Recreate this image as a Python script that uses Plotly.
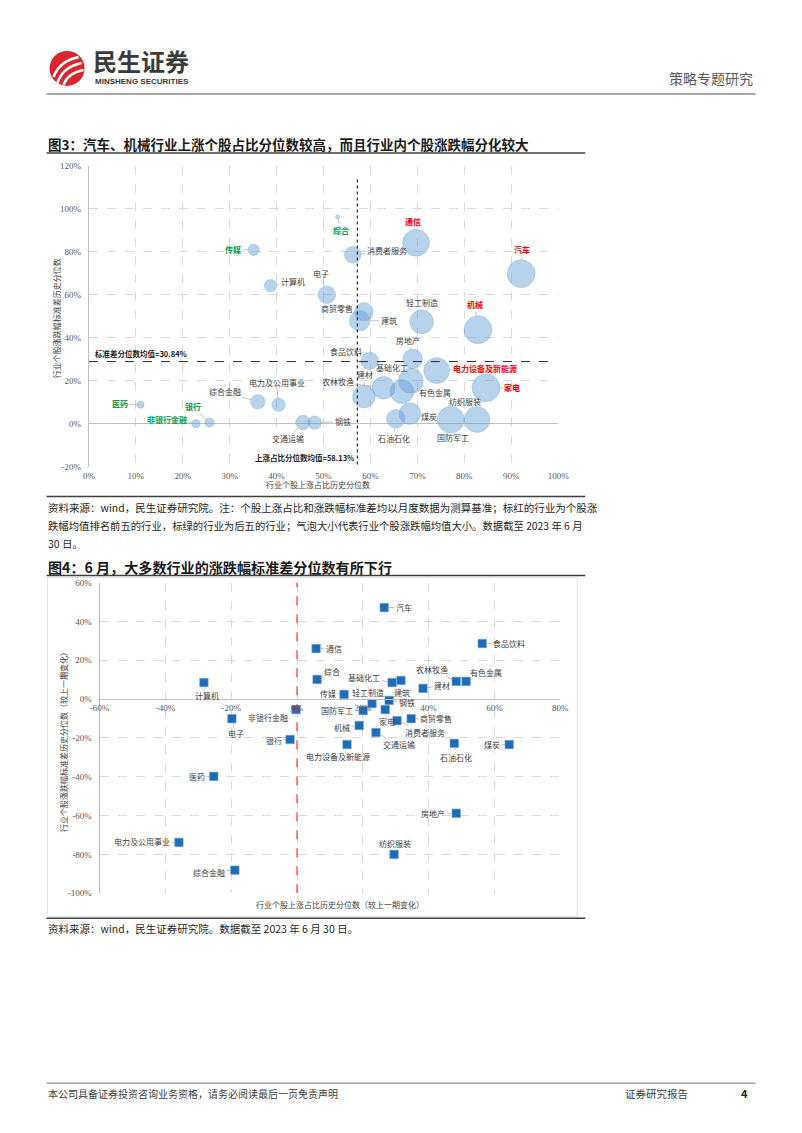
import plotly.graph_objects as go

# Page coordinates below are those of the reference picture; the renderer maps figure pixels
# to the photographed picture with a small fixed scale/offset, which is compensated here.
SX, BX = 0.973, 10.5
SY, BY = 0.992, 4.0
W, H = 816, 1138


def px(x):
    return ((x - BX) / SX) / W


def py(y):
    return 1 - ((y - BY) / SY) / H


# ---------------- Chart 1 data (图3) ----------------
c1_names = ["综合", "传媒", "计算机", "电子", "消费者服务", "通信", "汽车", "机械", "轻工制造",
            "商贸零售", "建筑", "食品饮料", "房地产", "电力设备及新能源", "家电", "建材", "农林牧渔",
            "有色金属", "基础化工", "钢铁", "交通运输", "石油石化", "煤炭", "国防军工", "纺织服装",
            "医药", "非银行金融", "银行", "综合金融", "电力及公用事业"]
c1_up_pct = [53.0, 35.1, 38.7, 50.7, 56.2, 69.7, 92.1, 82.9, 70.9,
             58.6, 57.7, 59.8, 69.0, 74.1, 84.6, 58.6, 62.8,
             66.7, 68.6, 48.1, 45.6, 65.4, 68.4, 77.1, 82.7,
             11.0, 22.8, 25.7, 36.0, 40.4]
c1_std_pct = [96.3, 80.9, 64.2, 60.0, 78.6, 84.2, 69.8, 43.7, 47.4,
              52.1, 47.9, 29.3, 30.2, 24.7, 16.7, 12.6, 16.7,
              14.9, 20.0, 0.5, 0.5, 2.3, 4.7, 1.9, 1.9,
              8.8, 0.0, 0.5, 10.2, 8.8]
c1_avg_move = [4, 11, 12, 17, 16, 26, 27, 27, 23,
               18, 20, 17, 19, 25, 27, 22, 22,
               23, 24, 13, 14, 18, 21, 26, 25,
               7, 8, 9, 14, 13]
c1_top5 = ["通信", "汽车", "机械", "电力设备及新能源", "家电"]
c1_bottom5 = ["综合", "传媒", "医药", "非银行金融", "银行"]
c1_mean_up_label = "58.13%"
c1_mean_std_label = "30.84%"
c1_x_ticks = [0, 10, 20, 30, 40, 50, 60, 70, 80, 90, 100]
c1_y_ticks = [-20, 0, 20, 40, 60, 80, 100, 120]

# ---------------- Chart 2 data (图4) ----------------
c2_names = ["汽车", "通信", "食品饮料", "综合", "计算机", "农林牧渔", "有色金属", "基础化工",
            "建筑", "建材", "传媒", "轻工制造", "钢铁", "国防军工", "家电", "非银行金融",
            "商贸零售", "消费者服务", "电子", "机械", "交通运输", "银行", "电力设备及新能源",
            "石油石化", "煤炭", "医药", "房地产", "电力及公用事业", "纺织服装", "综合金融"]
c2_up_change = [26.5, 5.8, 56.3, 6.1, -28.3, 48.4, 51.4, 28.9,
                31.6, 38.3, 14.3, 22.8, 28.0, 20.1, 26.8, -0.3,
                34.7, 30.4, -19.8, 18.9, 24.0, -2.1, 15.2,
                47.8, 64.5, -25.3, 48.4, -35.9, 29.5, -18.9]
c2_std_change = [47.1, 26.0, 28.6, 10.1, 8.5, 9.1, 9.1, 8.5,
                 9.6, 5.5, 2.4, -2.3, -0.7, -5.9, -5.4, -5.4,
                 -10.1, -11.1, -10.1, -13.6, -17.2, -20.8, -23.4,
                 -22.8, -23.4, -39.8, -58.8, -73.8, -80.0, -88.1]
c2_x_ticks = [-60, -40, -20, 0, 20, 40, 60, 80]
c2_y_ticks = [-100, -80, -60, -40, -20, 0, 20, 40, 60]

# ---------------- layout helpers (positions / styles) ----------------
c1_label_offset = {
    "综合": (3, 14), "传媒": (-21, 0), "计算机": (22, -4), "电子": (-6, -21),
    "消费者服务": (34, -4), "通信": (-3, -21), "汽车": (1, -24), "机械": (-3, -25),
    "轻工制造": (0, -19), "商贸零售": (-27, -3), "建筑": (29, 0), "食品饮料": (-24, -9),
    "房地产": (-5, -18), "电力设备及新能源": (48, -2), "家电": (26, 0), "建材": (1, -22),
    "农林牧渔": (-46, -6), "有色金属": (33, 1), "基础化工": (-19, -13), "钢铁": (28, -1),
    "交通运输": (-15, 16), "石油石化": (-2, 20), "煤炭": (19, 3), "国防军工": (2, 18),
    "纺织服装": (-12, -18), "医药": (-21, -1), "非银行金融": (-29, -4), "银行": (-17, -16),
    "综合金融": (-33, -10), "电力及公用事业": (-2, -22),
}
c2_label_offset = {
    "汽车": (20, 0), "通信": (18, 0), "食品饮料": (27, 0), "综合": (15, -8),
    "计算机": (3, 13), "农林牧渔": (-24, -12), "有色金属": (20, -9), "基础化工": (-28, -5),
    "建筑": (1, 12), "建材": (19, -3), "传媒": (-16, -1), "轻工制造": (-4, -11),
    "钢铁": (18, 2), "国防军工": (-26, 0), "家电": (2, 12), "非银行金融": (-28, 8),
    "商贸零售": (25, 0), "消费者服务": (28, 12), "电子": (4, 15), "机械": (-17, 2),
    "交通运输": (23, 12), "银行": (-16, 1), "电力设备及新能源": (-9, 12),
    "石油石化": (2, 14), "煤炭": (-17, 0), "医药": (-17, 0), "房地产": (-23, 0),
    "电力及公用事业": (-37, -1), "纺织服装": (1, -11), "综合金融": (-26, 2),
}

CJK = "Noto Sans CJK SC"
SERIF = "Liberation Serif"
GRID = "#D9D9D9"
AXIS = "#BFBFBF"
TICK_FONT = dict(family=SERIF, size=9, color="#595959")
LABEL_FONT = dict(family=CJK, size=8, color="#404040")

fig = go.Figure()

# chart 1 bubbles
fig.add_trace(go.Scatter(
    x=c1_up_pct, y=c1_std_pct, mode="markers", xaxis="x", yaxis="y",
    marker=dict(size=c1_avg_move, sizemode="diameter", sizeref=0.97,
                color="rgba(91,155,213,0.62)",
                line=dict(color="rgba(91,155,213,0.8)", width=0.6)),
    hoverinfo="skip", showlegend=False, cliponaxis=False))

# chart 2 squares
fig.add_trace(go.Scatter(
    x=c2_up_change, y=c2_std_change, mode="markers", xaxis="x2", yaxis="y2",
    marker=dict(symbol="square", size=8.5, color="#1F6BB5",
                line=dict(color="#6FA8DC", width=0.6)),
    hoverinfo="skip", showlegend=False, cliponaxis=False))

annotations = []

# chart 1 labels
for n, xv, yv, s in zip(c1_names, c1_up_pct, c1_std_pct, c1_avg_move):
    ax, ay = c1_label_offset[n]
    color = "#404040"
    label = n
    if n in c1_top5:
        color = "#FF0000"
        label = "<b>" + n + "</b>"
    elif n in c1_bottom5:
        color = "#00A04A"
        label = "<b>" + n + "</b>"
    annotations.append(dict(
        x=xv, y=yv, xref="x", yref="y", text=label, showarrow=True, arrowhead=0,
        arrowwidth=0.7, arrowcolor="#A6A6A6", ax=ax, ay=ay, standoff=s / 2,
        font=dict(family=CJK, size=8, color=color)))

# chart 2 labels
for n, xv, yv in zip(c2_names, c2_up_change, c2_std_change):
    ax, ay = c2_label_offset[n]
    annotations.append(dict(
        x=xv, y=yv, xref="x2", yref="y2", text=n, showarrow=True, arrowhead=0,
        arrowwidth=0.7, arrowcolor="#A6A6A6", ax=ax, ay=ay, standoff=4,
        font=LABEL_FONT))


def text(x, y, s, size=10, color="#262626", anchor="left", bold=False, family=CJK, angle=0):
    if bold:
        s = "<b>" + s + "</b>"
    annotations.append(dict(x=px(x), y=py(y), xref="paper", yref="paper", text=s,
                            showarrow=False, xanchor=anchor, yanchor="middle",
                            textangle=angle, font=dict(family=family, size=size, color=color)))


# header
text(91, 60, "民生证券", size=24, color="#3A3A3A", bold=True)
text(93, 81, "MINSHENG SECURITIES", size=8, color="#3A3A3A", bold=True, family="Liberation Sans Narrow, Liberation Sans")
text(755, 77, "策略专题研究", size=14, color="#595959", anchor="right")

# titles and notes
text(46, 143, "图3：汽车、机械行业上涨个股占比分位数较高，而且行业内个股涨跌幅分化较大", size=13.5, color="#1A1A1A", bold=True)
text(46, 507, "资料来源：wind，民生证券研究院。注：个股上涨占比和涨跌幅标准差均以月度数据为测算基准；标红的行业为个股涨", size=10.5)
text(46, 525, "跌幅均值排名前五的行业，标绿的行业为后五的行业；气泡大小代表行业个股涨跌幅均值大小。数据截至 2023 年 6 月", size=10.35)
text(46, 543, "30 日。", size=10.5)
text(46, 566, "图4：6 月，大多数行业的涨跌幅标准差分位数有所下行", size=14.1, color="#1A1A1A", bold=True)
text(46, 928, "资料来源：wind，民生证券研究院。数据截至 2023 年 6 月 30 日。", size=10.5)

# footer
text(46, 1093, "本公司具备证券投资咨询业务资格，请务必阅读最后一页免责声明", size=10, color="#404040")
text(690, 1093, "证券研究报告", size=10.5, color="#404040", anchor="right")
text(744, 1093, "4", size=11, color="#262626", anchor="center", bold=True)

# chart 1 axis titles and guide labels
text(57, 318, "行业个股涨跌幅标准差历史分位数", size=8, color="#404040", anchor="center", angle=-90)
text(318, 484, "行业个股上涨占比历史分位数", size=8, color="#404040", anchor="center")
text(93, 353, "标准差分位数均值=" + c1_mean_std_label, size=7.5, color="#1A1A1A", bold=True)
text(356, 457, "上涨占比分位数均值=" + c1_mean_up_label, size=7.5, color="#1A1A1A", anchor="right", bold=True)

# chart 2 axis titles
text(64, 740, "行业个股涨跌幅标准差历史分位数（较上一期变化）", size=8, color="#404040", anchor="center", angle=-90)
text(340, 904, "行业个股上涨占比历史分位数（较上一期变化）", size=8, color="#404040", anchor="center")

shapes = []


def hline(y, x0, x1, color, width, dash="solid"):
    shapes.append(dict(type="line", xref="paper", yref="paper", x0=px(x0), x1=px(x1),
                       y0=py(y), y1=py(y), line=dict(color=color, width=width, dash=dash)))


hline(93, 47, 755, "#8C8C8C", 1.5)
hline(152, 47, 585, "#404040", 1.5)
hline(496, 47, 585, "#404040", 1.5)
hline(575, 47, 585, "#404040", 1.5)
hline(918, 47, 585, "#404040", 1.5)
hline(1083, 47, 755, "#8C8C8C", 1.2)

# chart frame
shapes.append(dict(type="rect", xref="paper", yref="paper", x0=px(48), x1=px(577), y0=py(916), y1=py(577),
                   line=dict(color="#E3E3E3", width=1), layer="below"))

# chart 1 guide lines (mean values, as drawn)
shapes.append(dict(type="line", xref="x", yref="y", x0=0, x1=98, y0=28.9, y1=28.9,
                   line=dict(color="#262626", width=1, dash="dash")))
shapes.append(dict(type="line", xref="x", yref="y", x0=57.2, x1=57.2, y0=-19, y1=115,
                   line=dict(color="#262626", width=1.2, dash="dot")))

# chart 2 red dashed line at zero
shapes.append(dict(type="line", xref="x2", yref="y2", x0=0, x1=0, y0=-100, y1=60,
                   line=dict(color="#FF2020", width=1.1, dash="dash")))

# logo
shapes.append(dict(type="circle", xref="paper", yref="paper", x0=px(50), x1=px(85), y0=py(85), y1=py(50),
                   fillcolor="#D9262C", line=dict(width=0)))


def path(points):
    (x0, y0), (cx, cy), (x1, y1) = points
    return "M{},{} Q{},{} {},{}".format(px(x0), py(y0), px(cx), py(cy), px(x1), py(y1))


for pts in [[(54, 76), (60, 60), (79, 56)], [(58, 82), (63, 66), (82, 62)], [(64, 84), (68, 72), (84, 69)]]:
    shapes.append(dict(type="path", xref="paper", yref="paper", path=path(pts),
                       line=dict(color="white", width=2.6)))

fig.update_layout(
    width=W, height=H, margin=dict(l=0, r=0, t=0, b=0, pad=0),
    paper_bgcolor="white", plot_bgcolor="rgba(0,0,0,0)",
    showlegend=False,
    xaxis=dict(domain=[px(89.3), px(558)], range=[0, 100], tickvals=c1_x_ticks,
               ticktext=[f"{v}%" for v in c1_x_ticks], showgrid=True, gridcolor=GRID,
               griddash="dash", gridwidth=1, zeroline=False, showline=False, ticks="",
               tickfont=TICK_FONT, anchor="y", fixedrange=True, ticklabelstandoff=2),
    yaxis=dict(domain=[py(466), py(165)], range=[-20, 120], tickvals=c1_y_ticks,
               ticktext=[f"{v}%" for v in c1_y_ticks], showgrid=True, gridcolor=GRID,
               griddash="dash", gridwidth=1, zeroline=True, zerolinecolor=AXIS, zerolinewidth=1,
               showline=True, linecolor=AXIS, linewidth=1, ticks="", tickfont=TICK_FONT,
               anchor="x", fixedrange=True, ticklabelstandoff=5),
    xaxis2=dict(domain=[px(100), px(560)], range=[-60, 80], tickvals=c2_x_ticks,
                ticktext=[f"{v}%" for v in c2_x_ticks], showgrid=True, gridcolor=GRID,
                griddash="dash", gridwidth=1, zeroline=False, showline=True, linecolor=AXIS,
                linewidth=1, ticks="", tickfont=TICK_FONT, anchor="free", position=py(698.6),
                fixedrange=True),
    yaxis2=dict(domain=[py(893), py(582)], range=[-100, 60], tickvals=c2_y_ticks,
                ticktext=[f"{v}%" for v in c2_y_ticks], showgrid=True, gridcolor=GRID,
                griddash="dash", gridwidth=1, zeroline=False, showline=True, linecolor=AXIS,
                linewidth=1, ticks="", tickfont=TICK_FONT, anchor="x2", fixedrange=True,
                ticklabelstandoff=5),
    annotations=annotations,
    shapes=shapes,
)

fig.write_html("out.html")
